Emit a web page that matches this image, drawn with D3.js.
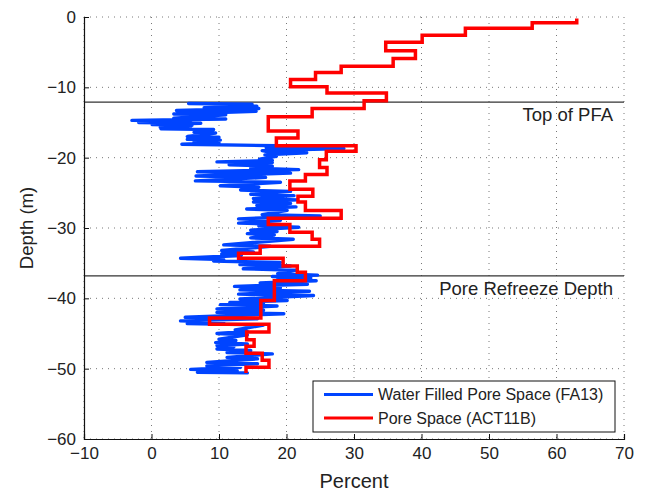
<!DOCTYPE html>
<html>
<head>
<meta charset="utf-8">
<script src="https://cdn.jsdelivr.net/npm/d3@7"></script>
<style>
  body { margin: 0; background: #fff; }
  text { font-family: "Liberation Sans", Arial, sans-serif; fill: #222; }
</style>
</head>
<body>
<script>
// pore space (ACT11B), step profile: value i holds from boundary i to boundary i+1
var poreDepths = [-0.2, -0.8, -1.6, -2.6, -3.6, -4.8, -5.9, -7.0, -7.9, -8.9, -9.9, -10.8,
    -11.9, -13.0, -14.2, -16.2, -17.2, -18.3, -19.1, -20.3, -21.4, -22.4, -23.3, -24.5,
    -25.5, -26.3, -27.5, -28.6, -29.5, -30.6, -31.6, -32.6, -33.6, -34.3, -35.4, -36.3,
    -37.5, -40.3, -42.8, -43.7, -44.8, -45.9, -46.8, -47.8, -48.8, -49.8, -50.6];
var poreVals = [63, 56.4, 46.5, 40.1, 34.7, 39.1, 35.8, 28.1, 24.3, 20.6, 26.0, 34.8,
    31.5, 23.8, 17.3, 21.7, 18.5, 30.3, 25.9, 24.9, 26.0, 22.8, 20.5, 23.9,
    21.7, 22.8, 28.1, 17.3, 20.5, 23.8, 24.9, 16.1, 12.9, 19.5, 21.6, 22.8,
    18.2, 16.2, 8.6, 17.4, 14.1, 15.2, 14.0, 16.4, 17.4, 14.0];

// water filled pore space (FA13)
var wfpsDepth = [-12.3, -12.4, -12.6, -12.7, -12.9, -13.0, -13.3, -13.4, -13.8, -13.9,
    -14.4, -14.5, -14.7, -14.8, -15.0, -15.1, -15.3, -15.4, -15.7, -15.8,
    -15.9, -16.0, -16.4, -16.5, -17.0, -17.1, -17.4, -17.5, -17.8, -17.9,
    -18.1, -18.3, -18.6, -18.7, -19.0, -19.2, -19.3, -19.6, -19.8, -20.2,
    -20.4, -20.6, -20.7, -21.0, -21.2, -21.5, -21.7, -22.0, -22.2, -22.6,
    -22.8, -23.3, -23.5, -24.0, -24.2, -24.6, -24.8, -25.2, -25.4, -25.8,
    -26.0, -26.3, -26.5, -26.8, -27.0, -27.3, -27.5, -28.1, -28.3, -28.7,
    -28.9, -29.3, -29.5, -29.7, -29.9, -30.3, -30.5, -30.8, -31.0, -31.4,
    -31.6, -32.4, -32.6, -33.2, -33.4, -33.7, -33.9, -34.3, -34.5, -34.7,
    -34.9, -35.2, -35.4, -35.8, -36.0, -36.5, -36.7, -36.9, -37.1, -37.3,
    -37.5, -37.8, -38.0, -38.3, -38.5, -38.8, -39.0, -39.4, -39.6, -40.1,
    -40.3, -40.6, -40.8, -40.9, -41.1, -41.5, -41.7, -42.0, -42.2, -42.7,
    -42.9, -43.2, -43.4, -43.6, -43.8, -44.5, -44.7, -45.0, -45.2, -45.8,
    -46.0, -46.3, -46.5, -46.7, -46.9, -47.2, -47.4, -47.7, -47.9, -48.4,
    -48.6, -49.1, -49.3, -49.6, -49.8, -50.1, -50.3, -50.5, -50.6];
var wfpsVals = [5.5, 14.9, 12.7, 15.6, 7.8, 15.9, 3.7, 15.5, 3.3, 11.0,
    3.3, 11.0, -2.9, 5.8, -1.9, 7.3, 0.1, 6.0, 1.3, 5.8,
    1.4, 9.2, 6.3, 9.5, 5.3, 10.0, 5.3, 10.2, 6.3, 10.0,
    4.5, 18.6, 17.0, 28.5, 16.4, 17.5, 23.0, 16.8, 18.5, 16.0,
    17.9, 9.7, 17.9, 11.5, 17.9, 14.7, 21.8, 6.8, 20.6, 6.6,
    16.9, 6.5, 19.1, 10.2, 15.9, 13.2, 20.6, 14.7, 21.1, 15.1,
    21.6, 15.1, 20.6, 15.6, 21.4, 14.1, 20.1, 16.4, 25.0, 12.9,
    19.1, 12.9, 19.1, 15.9, 21.8, 14.7, 18.6, 14.2, 18.2, 14.7,
    21.0, 10.7, 17.6, 10.4, 15.1, 10.4, 13.3, 4.3, 10.7, 9.2,
    19.1, 13.1, 20.6, 13.6, 21.6, 18.7, 24.6, 17.9, 23.6, 18.7,
    24.4, 16.1, 23.1, 12.3, 19.1, 13.1, 23.4, 12.9, 24.0, 13.1,
    20.1, 11.6, 16.6, 10.2, 18.6, 9.7, 16.6, 9.7, 19.6, 5.0,
    15.7, 4.3, 10.7, 5.3, 16.6, 12.4, 14.2, 9.7, 14.2, 10.0,
    12.5, 9.5, 14.2, 9.7, 12.2, 9.7, 14.7, 11.2, 17.9, 11.2,
    15.7, 8.2, 15.7, 8.2, 13.2, 5.8, 12.7, 6.8, 14.2];

var xTicks = [-10, 0, 10, 20, 30, 40, 50, 60, 70];
var yTicks = [0, -10, -20, -30, -40, -50, -60];

// marker lines
var markers = [
    { depth: -12.1, label: "Top of PFA" },
    { depth: -36.8, label: "Pore Refreeze Depth" }
];

var legendItems = [
    { name: "Water Filled Pore Space (FA13)", color: "#0044ff" },
    { name: "Pore Space (ACT11B)", color: "#ff0000" }
];

var width = 645,
    height = 491;

var margin = { top: 17, right: 21, bottom: 52, left: 84 };
var plotW = width - margin.left - margin.right,
    plotH = height - margin.top - margin.bottom;

var svg = d3.select("body").append("svg")
    .attr("width", width)
    .attr("height", height);

var g = svg.append("g")
    .attr("transform", "translate(" + margin.left + "," + margin.top + ")");

var x = d3.scaleLinear().domain([-10, 70]).range([0, plotW]);
var y = d3.scaleLinear().domain([0, -60]).range([0, plotH]);

// dotted grid
g.selectAll(".vgrid")
    .data(xTicks)
    .enter().append("line")
    .attr("x1", function(d) { return x(d); })
    .attr("x2", function(d) { return x(d); })
    .attr("y1", 0)
    .attr("y2", plotH)
    .style("stroke", "#555")
    .style("stroke-width", 0.8)
    .style("stroke-dasharray", "1,5");

g.selectAll(".hgrid")
    .data(yTicks)
    .enter().append("line")
    .attr("x1", 0)
    .attr("x2", plotW)
    .attr("y1", function(d) { return y(d); })
    .attr("y2", function(d) { return y(d); })
    .style("stroke", "#555")
    .style("stroke-width", 0.8)
    .style("stroke-dasharray", "1,5");

// marker lines and labels
g.selectAll(".marker")
    .data(markers)
    .enter().append("line")
    .attr("x1", 0)
    .attr("x2", plotW)
    .attr("y1", function(d) { return y(d.depth); })
    .attr("y2", function(d) { return y(d.depth); })
    .style("stroke", "#333")
    .style("stroke-width", 1.1);

g.selectAll(".markerLabel")
    .data(markers)
    .enter().append("text")
    .attr("x", plotW - 11)
    .attr("y", function(d) { return y(d.depth) + 19; })
    .attr("text-anchor", "end")
    .attr("font-size", "18.5px")
    .text(function(d) { return d.label; });

// blue profile
var wfps = wfpsDepth.map(function(d, i) {
    return { x: wfpsVals[i], y: d };
});

var line = d3.line()
    .x(function(d) { return x(d.x); })
    .y(function(d) { return y(d.y); });

g.append("path")
    .datum(wfps)
    .attr("d", line)
    .style("fill", "none")
    .style("stroke", legendItems[0].color)
    .style("stroke-width", 3.4)
    .style("stroke-linejoin", "round")
    .style("stroke-linecap", "round");

// red step profile: vertical run at each value, then across to the next
var pore = [];
poreVals.forEach(function(v, i) {
    pore.push({ x: v, y: poreDepths[i] });
    pore.push({ x: v, y: poreDepths[i + 1] });
});

g.append("path")
    .datum(pore)
    .attr("d", line)
    .style("fill", "none")
    .style("stroke", legendItems[1].color)
    .style("stroke-width", 3.5)
    .style("stroke-linejoin", "miter");

// axes (left and bottom only)
function fmt(d) {
    return d < 0 ? "\u2212" + Math.abs(d) : d;
}

var xAxis = d3.axisBottom(x)
    .tickValues(xTicks)
    .tickSize(-5)
    .tickPadding(8)
    .tickFormat(fmt);

var yAxis = d3.axisLeft(y)
    .tickValues(yTicks)
    .tickSize(-5)
    .tickPadding(8)
    .tickFormat(fmt);

var gx = g.append("g")
    .attr("transform", "translate(0," + plotH + ")")
    .call(xAxis);

var gy = g.append("g")
    .call(yAxis);

[gx, gy].forEach(function(a) {
    a.select(".domain").style("stroke", "#111").style("stroke-width", 1.2);
    a.selectAll(".tick line").style("stroke", "#111");
    a.selectAll(".tick text")
        .attr("font-size", "17px")
        .style("font-family", "Liberation Sans, Arial, sans-serif")
        .style("fill", "#222");
});

// axis titles
svg.append("text")
    .attr("x", margin.left + plotW / 2)
    .attr("y", 488)
    .attr("text-anchor", "middle")
    .attr("font-size", "20px")
    .text("Percent");

svg.append("text")
    .attr("transform", "translate(33," + (margin.top + plotH / 2) + ") rotate(-90)")
    .attr("text-anchor", "middle")
    .attr("font-size", "18.5px")
    .text("Depth (m)");

// legend
var legend = svg.append("g")
    .attr("transform", "translate(313,381)");

legend.append("rect")
    .attr("width", 302)
    .attr("height", 51)
    .style("fill", "#fff")
    .style("stroke", "#111")
    .style("stroke-width", 1);

var rows = legend.selectAll(".row")
    .data(legendItems)
    .enter().append("g")
    .attr("transform", function(d, i) {
        return "translate(0," + (13.5 + i * 23.5) + ")";
    });

rows.append("line")
    .attr("x1", 11)
    .attr("x2", 60)
    .style("stroke", function(d) { return d.color; })
    .style("stroke-width", 3);

rows.append("text")
    .attr("x", 65)
    .attr("y", 5.5)
    .attr("font-size", "16px")
    .text(function(d) { return d.name; });
</script>
</body>
</html>
